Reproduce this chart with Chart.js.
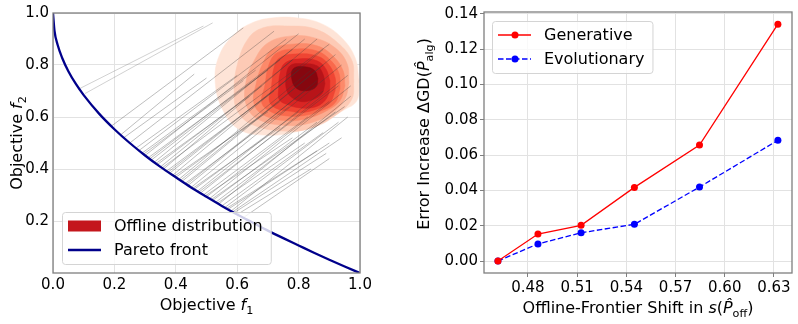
<!DOCTYPE html>
<html>
<head>
<meta charset="utf-8">
<script src="https://cdn.jsdelivr.net/npm/chart.js@4.4.1/dist/chart.umd.min.js"></script>
<style>
  body { margin: 0; background: #fff; }
  #wrap { position: relative; width: 798px; height: 324px; }
  canvas { position: absolute; top: 0; }
</style>
</head>
<body>
<div id="wrap">
  <canvas id="left" width="400" height="324" style="left:0"></canvas>
  <canvas id="right" width="398" height="324" style="left:400px"></canvas>
</div>
<script>
// ---- right panel data ----
const shiftX = [0.4617, 0.4861, 0.5124, 0.5449, 0.5846, 0.6324];
const generative = [0, 0.0153, 0.0202, 0.0417, 0.0657, 0.1342];
const evolutionary = [0, 0.0097, 0.0160, 0.0208, 0.0419, 0.0684];
const shiftTicks = [0.48, 0.51, 0.54, 0.57, 0.60, 0.63];
const errorTicks = [0, 0.02, 0.04, 0.06, 0.08, 0.10, 0.12, 0.14];

// ---- left panel data ----
const objTicksX = [0, 0.2, 0.4, 0.6, 0.8, 1.0];
const objTicksY = [0.2, 0.4, 0.6, 0.8, 1.0];

// pareto front
const frontF1 = [0, 0.005, 0.015, 0.03, 0.05, 0.075, 0.1, 0.15, 0.2, 0.25, 0.3, 0.35, 0.4, 0.45, 0.5, 0.55, 0.6, 0.65, 0.7, 0.75, 0.8, 0.85, 0.9, 0.95, 1];
const frontF2 = [1, 0.93, 0.878, 0.827, 0.776, 0.726, 0.684, 0.613, 0.553, 0.5, 0.452, 0.408, 0.368, 0.329, 0.293, 0.258, 0.225, 0.194, 0.163, 0.134, 0.106, 0.078, 0.051, 0.025, 0];

// grey segments: front point -> offline point
const pairStartF1 = [0.088, 0.104, 0.19, 0.22, 0.23, 0.25, 0.27, 0.28, 0.29, 0.295, 0.30, 0.31, 0.315, 0.32, 0.33, 0.335, 0.34, 0.35, 0.355, 0.36, 0.37, 0.375, 0.38, 0.39, 0.395, 0.40, 0.41, 0.415, 0.42, 0.43, 0.435, 0.44, 0.45, 0.455, 0.46, 0.47, 0.475, 0.48, 0.49, 0.495, 0.50, 0.51, 0.515, 0.52, 0.53, 0.535, 0.54, 0.55, 0.56, 0.565, 0.57, 0.58, 0.585, 0.59, 0.60, 0.62];
const pairStartF2 = [0.71, 0.69, 0.565, 0.531, 0.52, 0.50, 0.48, 0.471, 0.461, 0.457, 0.452, 0.443, 0.439, 0.434, 0.426, 0.421, 0.417, 0.408, 0.404, 0.40, 0.392, 0.388, 0.384, 0.376, 0.372, 0.368, 0.36, 0.356, 0.352, 0.344, 0.341, 0.337, 0.329, 0.325, 0.322, 0.314, 0.311, 0.307, 0.30, 0.296, 0.293, 0.286, 0.282, 0.279, 0.272, 0.268, 0.265, 0.258, 0.252, 0.248, 0.245, 0.238, 0.235, 0.232, 0.225, 0.213];
const pairEndF1 = [0.49, 0.52, 0.62, 0.46, 0.50, 0.72, 0.60, 0.76, 0.66, 0.62, 0.80, 0.70, 0.78, 0.74, 0.82, 0.64, 0.68, 0.78, 0.90, 0.86, 0.72, 0.76, 0.80, 0.88, 0.70, 0.74, 0.84, 0.88, 0.92, 0.77, 0.82, 0.86, 0.94, 0.74, 0.80, 0.88, 0.93, 0.96, 0.83, 0.78, 0.90, 0.97, 0.95, 0.86, 0.92, 0.82, 0.97, 0.88, 0.93, 0.86, 0.90, 0.96, 0.94, 0.89, 0.84, 0.90];
const pairEndF2 = [0.95, 0.962, 0.943, 0.765, 0.75, 0.93, 0.76, 0.90, 0.78, 0.74, 0.92, 0.78, 0.86, 0.82, 0.90, 0.68, 0.72, 0.82, 0.88, 0.90, 0.70, 0.74, 0.78, 0.86, 0.62, 0.66, 0.78, 0.80, 0.84, 0.64, 0.70, 0.74, 0.80, 0.56, 0.62, 0.70, 0.72, 0.76, 0.60, 0.52, 0.66, 0.72, 0.64, 0.58, 0.62, 0.50, 0.68, 0.54, 0.58, 0.47, 0.50, 0.60, 0.52, 0.46, 0.40, 0.44];

// offline distribution contours, outer to inner
const kdeF1 = [
  [0.997, 0.984, 0.941, 0.876, 0.798, 0.713, 0.648, 0.593, 0.544, 0.528, 0.554, 0.61, 0.70, 0.78, 0.87, 0.945, 0.99, 0.997],
  [0.980, 0.974, 0.928, 0.853, 0.765, 0.684, 0.635, 0.60, 0.59, 0.60, 0.65, 0.765, 0.853, 0.928, 0.974, 0.980],
  [0.964, 0.958, 0.919, 0.853, 0.779, 0.700, 0.655, 0.628, 0.63, 0.67, 0.765, 0.844, 0.909, 0.951, 0.964],
  [0.951, 0.945, 0.912, 0.860, 0.788, 0.717, 0.685, 0.662, 0.655, 0.69, 0.762, 0.827, 0.893, 0.935, 0.951],
  [0.935, 0.932, 0.906, 0.860, 0.795, 0.730, 0.703, 0.69, 0.68, 0.71, 0.756, 0.814, 0.876, 0.919, 0.935],
  [0.919, 0.919, 0.896, 0.860, 0.798, 0.739, 0.72, 0.712, 0.705, 0.73, 0.775, 0.811, 0.863, 0.902, 0.919],
  [0.902, 0.889, 0.860, 0.805, 0.756, 0.74, 0.735, 0.738, 0.77, 0.798, 0.844, 0.879, 0.899, 0.902],
  [0.886, 0.879, 0.860, 0.814, 0.772, 0.759, 0.762, 0.779, 0.811, 0.847, 0.876, 0.886],
  [0.863, 0.853, 0.821, 0.782, 0.779, 0.795, 0.827, 0.857, 0.863]
];
const kdeF2 = [
  [0.739, 0.828, 0.904, 0.958, 0.981, 0.981, 0.962, 0.92, 0.843, 0.74, 0.625, 0.55, 0.53, 0.54, 0.575, 0.625, 0.663, 0.739],
  [0.739, 0.816, 0.885, 0.939, 0.950, 0.943, 0.90, 0.80, 0.70, 0.625, 0.57, 0.545, 0.562, 0.613, 0.670, 0.739],
  [0.732, 0.805, 0.866, 0.904, 0.912, 0.885, 0.816, 0.732, 0.645, 0.59, 0.567, 0.579, 0.617, 0.670, 0.732],
  [0.720, 0.778, 0.835, 0.874, 0.881, 0.862, 0.81, 0.73, 0.65, 0.605, 0.586, 0.594, 0.625, 0.663, 0.720],
  [0.709, 0.766, 0.816, 0.854, 0.862, 0.847, 0.80, 0.72, 0.655, 0.62, 0.605, 0.605, 0.625, 0.655, 0.709],
  [0.701, 0.751, 0.805, 0.835, 0.843, 0.828, 0.79, 0.72, 0.66, 0.632, 0.622, 0.617, 0.632, 0.655, 0.701],
  [0.739, 0.785, 0.816, 0.824, 0.808, 0.77, 0.71, 0.665, 0.645, 0.636, 0.636, 0.655, 0.693, 0.739],
  [0.728, 0.766, 0.797, 0.805, 0.797, 0.747, 0.700, 0.674, 0.659, 0.667, 0.690, 0.728],
  [0.747, 0.778, 0.793, 0.785, 0.739, 0.709, 0.701, 0.716, 0.747]
];
const kdeColors = ['#fee4d7', '#fdcab5', '#fcab8f', '#fc8a6a', '#f9694c', '#ef4533', '#d92523', '#b81419', '#86070f'];

const FONT = '"DejaVu Sans", sans-serif';

function pts(xs, ys) {
  return xs.map((x, i) => ({ x: x, y: ys[i] }));
}

// mixed-style axis title (italic symbols, subscripts)
function drawRich(ctx, parts, cx, cy, size, angle) {
  ctx.save();
  ctx.translate(cx, cy);
  ctx.rotate(angle);
  let total = 0;
  const pieces = parts.map(p => {
    const f = (p.it ? 'italic ' : '') + (p.sub ? size * 0.7 : size) + 'px ' + FONT;
    ctx.font = f;
    const w = ctx.measureText(p.t).width;
    total += w;
    return { t: p.t, sub: p.sub, f: f, w: w };
  });
  let x = -total / 2;
  ctx.fillStyle = '#000';
  ctx.textAlign = 'left';
  ctx.textBaseline = 'alphabetic';
  pieces.forEach(p => {
    ctx.font = p.f;
    ctx.fillText(p.t, x, size * 0.36 + (p.sub ? size * 0.24 : 0));
    x += p.w;
  });
  ctx.restore();
}

function drawLegend(ctx, items, left, top, bottom) {
  ctx.save();
  ctx.font = '16px ' + FONT;
  const tw = Math.max(...items.map(it => ctx.measureText(it.label).width));
  const w = 6 + 33 + 13 + tw + 8;
  const h = items.length * 24 + 4;
  const y0 = top !== null ? top : bottom - h;
  ctx.beginPath();
  ctx.roundRect(left + 0.5, y0 + 0.5, w, h, 3);
  ctx.fillStyle = 'rgba(255,255,255,0.8)';
  ctx.fill();
  ctx.strokeStyle = '#d4d4d4';
  ctx.lineWidth = 1;
  ctx.stroke();
  items.forEach((it, i) => {
    const cy = y0 + 14 + i * 24;
    const hx = left + 6;
    if (it.kind === 'rect') {
      ctx.fillStyle = it.color;
      ctx.fillRect(hx, cy - 5.5, 33, 11);
    } else {
      ctx.strokeStyle = it.color;
      ctx.lineWidth = it.width;
      ctx.setLineDash(it.dash || []);
      ctx.beginPath();
      ctx.moveTo(hx, cy);
      ctx.lineTo(hx + 33, cy);
      ctx.stroke();
      ctx.setLineDash([]);
      if (it.marker) {
        ctx.fillStyle = it.color;
        ctx.beginPath();
        ctx.arc(hx + 17, cy, 3.5, 0, Math.PI * 2);
        ctx.fill();
      }
    }
    ctx.fillStyle = '#000';
    ctx.textBaseline = 'middle';
    ctx.textAlign = 'left';
    ctx.fillText(it.label, hx + 33 + 13, cy + 1);
  });
  ctx.restore();
}

function frame(ctx, ca) {
  ctx.save();
  ctx.strokeStyle = '#7f7f7f';
  ctx.lineWidth = 1.3;
  ctx.strokeRect(ca.left, ca.top, ca.right - ca.left, ca.bottom - ca.top);
  ctx.restore();
}

function fixedTicks(list) {
  return scale => { scale.ticks = list.map(v => ({ value: v })); };
}

const tickFont = { family: FONT, size: 15 };

// ---- left chart ----
const leftSets = [];
leftSets.push({
  label: 'Pareto front',
  data: pts(frontF1, frontF2),
  showLine: true,
  borderColor: '#00008b',
  borderWidth: 2.3,
  pointRadius: 0,
  cubicInterpolationMode: 'monotone',
  order: 0
});
pairStartF1.forEach((x, i) => {
  leftSets.push({
    data: [{ x: x, y: pairStartF2[i] }, { x: pairEndF1[i], y: pairEndF2[i] }],
    showLine: true,
    borderColor: i < 2 ? 'rgba(110,110,110,0.4)' : 'rgba(60,60,60,0.42)',
    borderWidth: 0.8,
    pointRadius: 0,
    order: 1
  });
});
kdeF1.forEach((xs, i) => {
  leftSets.push({
    data: pts(xs, kdeF2[i]),
    showLine: true,
    fill: 'shape',
    backgroundColor: kdeColors[i],
    borderColor: kdeColors[i],
    borderWidth: 0.5,
    pointRadius: 0,
    tension: 0.4,
    order: 30 - i
  });
});

new Chart(document.getElementById('left'), {
  type: 'scatter',
  data: { datasets: leftSets },
  options: {
    responsive: false,
    animation: false,
    layout: { padding: { left: 0, right: 40, top: 12, bottom: 0 } },
    plugins: { legend: { display: false }, tooltip: { enabled: false } },
    scales: {
      x: {
        type: 'linear', min: 0, max: 1,
        afterBuildTicks: fixedTicks(objTicksX),
        afterFit: s => { s.height = 51; },
        ticks: { font: tickFont, color: '#000', padding: 3, maxRotation: 0, autoSkip: false, callback: v => v.toFixed(1) },
        grid: { color: '#e2e2e2', drawTicks: false },
        border: { display: false }
      },
      y: {
        type: 'linear', min: 0, max: 1,
        afterBuildTicks: fixedTicks(objTicksY),
        afterFit: s => { s.width = 53; },
        ticks: { font: tickFont, color: '#000', padding: 4, autoSkip: false, callback: v => v.toFixed(1) },
        grid: { color: '#e2e2e2', drawTicks: false },
        border: { display: false }
      }
    }
  },
  plugins: [{
    id: 'leftDecor',
    afterDraw(chart) {
      const ctx = chart.ctx, ca = chart.chartArea;
      frame(ctx, ca);
      drawLegend(ctx, [
        { label: 'Offline distribution', kind: 'rect', color: '#c4161c' },
        { label: 'Pareto front', kind: 'line', color: '#00008b', width: 2.3 }
      ], ca.left + 9, null, ca.bottom - 9);
      drawRich(ctx, [{ t: 'Objective ' }, { t: 'f', it: true }, { t: '1', sub: true }],
        (ca.left + ca.right) / 2, 304, 16, 0);
      drawRich(ctx, [{ t: 'Objective ' }, { t: 'f', it: true }, { t: '2', sub: true }],
        16, (ca.top + ca.bottom) / 2, 16, -Math.PI / 2);
    }
  }]
});

// ---- right chart ----
new Chart(document.getElementById('right'), {
  type: 'scatter',
  data: {
    datasets: [
      {
        label: 'Generative',
        data: pts(shiftX, generative),
        showLine: true,
        borderColor: '#ff0000',
        backgroundColor: '#ff0000',
        borderWidth: 1.3,
        pointRadius: 3.5,
        pointBorderWidth: 0
      },
      {
        label: 'Evolutionary',
        data: pts(shiftX, evolutionary),
        showLine: true,
        borderColor: '#0000ff',
        backgroundColor: '#0000ff',
        borderWidth: 1.3,
        borderDash: [5.5, 2.5],
        pointRadius: 3.5,
        pointBorderWidth: 0
      }
    ]
  },
  options: {
    responsive: false,
    animation: false,
    layout: { padding: { left: 0, right: 6, top: 12, bottom: 0 } },
    plugins: { legend: { display: false }, tooltip: { enabled: false } },
    scales: {
      x: {
        type: 'linear', min: 0.4532, max: 0.641,
        afterBuildTicks: fixedTicks(shiftTicks),
        afterFit: s => { s.height = 51; },
        ticks: { font: tickFont, color: '#000', padding: 2, maxRotation: 0, autoSkip: false, callback: v => v.toFixed(2) },
        grid: { color: '#e2e2e2', tickColor: '#7f7f7f', tickLength: 4 },
        border: { display: false }
      },
      y: {
        type: 'linear', min: -0.0068, max: 0.1411,
        afterBuildTicks: fixedTicks(errorTicks),
        afterFit: s => { s.width = 84; },
        ticks: { font: tickFont, color: '#000', padding: 2, autoSkip: false, callback: v => v.toFixed(2) },
        grid: { color: '#e2e2e2', tickColor: '#7f7f7f', tickLength: 4 },
        border: { display: false }
      }
    }
  },
  plugins: [{
    id: 'rightDecor',
    afterDraw(chart) {
      const ctx = chart.ctx, ca = chart.chartArea;
      frame(ctx, ca);
      drawLegend(ctx, [
        { label: 'Generative', kind: 'line', color: '#ff0000', width: 1.3, marker: true },
        { label: 'Evolutionary', kind: 'line', color: '#0000ff', width: 1.3, dash: [5.5, 2.5], marker: true }
      ], ca.left + 8, ca.top + 9, null);
      drawRich(ctx, [{ t: 'Offline-Frontier Shift in ' }, { t: 's', it: true }, { t: '(' },
        { t: 'P\u0302', it: true }, { t: 'off', sub: true }, { t: ')' }],
        (ca.left + ca.right) / 2, 307, 16, 0);
      drawRich(ctx, [{ t: 'Error Increase \u0394GD(' }, { t: 'P\u0302', it: true },
        { t: 'alg', sub: true }, { t: ')' }],
        23, 134, 16, -Math.PI / 2);
    }
  }]
});
</script>
</body>
</html>
